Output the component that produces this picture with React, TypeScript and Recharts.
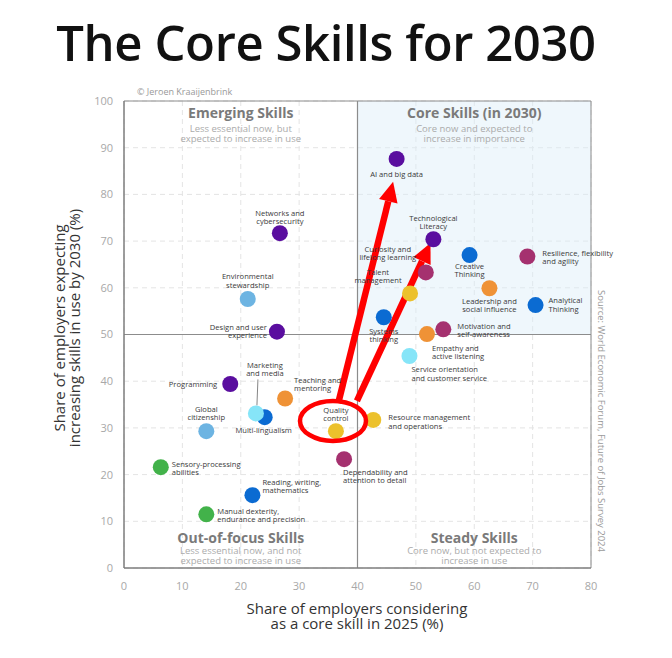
import React from 'react';
import {
  ScatterChart,
  Scatter,
  XAxis,
  YAxis,
  CartesianGrid,
  ReferenceLine,
  ReferenceArea,
  ReferenceDot,
} from 'recharts';

// ---------- data ----------
const skills = [
  'AI and big data',
  'Networks and\ncybersecurity',
  'Environmental\nstewardship',
  'Design and user\nexperience',
  'Technological\nLiteracy',
  'Curiosity and\nlifelong learning',
  'Talent\nmanagement',
  'Creative\nThinking',
  'Resilience, flexibility\nand agility',
  'Leadership and\nsocial influence',
  'Analytical\nThinking',
  'Systems\nthinking',
  'Empathy and\nactive listening',
  'Motivation and\nself-awareness',
  'Service orientation\nand customer service',
  'Resource management\nand operations',
  'Quality\ncontrol',
  'Dependability and\nattention to detail',
  'Teaching and\nmentoring',
  'Multi-lingualism',
  'Marketing\nand media',
  'Programming',
  'Global\ncitizenship',
  'Sensory-processing\nabilities',
  'Reading, writing,\nmathematics',
  'Manual dexterity,\nendurance and precision',
];

const coreShare2025 = [
  46.7, 26.7, 21.2, 26.2, 53.0, 51.7, 49.0, 59.2, 69.1, 62.6, 70.5, 44.5, 51.9,
  54.7, 48.9, 42.7, 36.3, 37.7, 27.6, 24.1, 22.6, 18.2, 14.1, 6.3, 22.0, 14.1,
];

const increaseShare2030 = [
  87.6, 71.7, 57.6, 50.6, 70.4, 63.3, 58.8, 67.0, 66.7, 59.9, 56.3, 53.7, 50.1,
  51.1, 45.4, 31.7, 29.3, 23.3, 36.3, 32.3, 33.1, 39.4, 29.3, 21.6, 15.6, 11.5,
];

const skillGroup = [
  'purple', 'purple', 'lightblue', 'purple', 'purple', 'magenta', 'yellow', 'blue',
  'magenta', 'orange', 'blue', 'blue', 'orange', 'magenta', 'cyan', 'yellow',
  'yellow', 'magenta', 'orange', 'blue', 'cyan', 'purple', 'lightblue', 'green',
  'blue', 'green',
];

const xTicks = [0, 10, 20, 30, 40, 50, 60, 70, 80];
const yTicks = [0, 10, 20, 30, 40, 50, 60, 70, 80, 90, 100];

const quadrants = [
  { title: 'Emerging Skills', sub: ['Less essential now, but', 'expected to increase in use'], x: 20, y: 100, top: true },
  { title: 'Core Skills (in 2030)', sub: ['Core now and expected to', 'increase in importance'], x: 60, y: 100, top: true },
  { title: 'Out-of-focus Skills', sub: ['Less essential now, and not', 'expected to increase in use'], x: 20, y: 0, top: false },
  { title: 'Steady Skills', sub: ['Core now, but not expected to', 'increase in use'], x: 60, y: 0, top: false },
];

// annotation arrows (data coordinates)
const arrows = [
  [{ x: 36.7, y: 35.3 }, { x: 46.1, y: 82.7 }],
  [{ x: 39.9, y: 35.8 }, { x: 52.5, y: 69.6 }],
];
const highlight = { x: 35.8, y: 31.5 };

// ---------- styles ----------
const groupColors: Record<string, string> = {
  purple: '#5a0e9f',
  blue: '#0b6bd2',
  magenta: '#a5316f',
  orange: '#ef9236',
  yellow: '#ecc12c',
  lightblue: '#6db4e2',
  cyan: '#86e5f8',
  green: '#42b24a',
};

// label placement relative to dot: [anchor, dx, dy(first baseline)]
const labelPlacement: [string, number, number][] = [
  ['middle', 0, 18],
  ['middle', 0, -17],
  ['middle', 0, -19],
  ['end', -10, -1],
  ['middle', 0, -18],
  ['middle', -38, -20],
  ['middle', -32, -18],
  ['middle', 0, 14],
  ['start', 15, 0],
  ['middle', 0, 16],
  ['start', 13, -1],
  ['middle', 0, 17],
  ['start', 5, 17.5],
  ['start', 14, 0],
  ['start', 2, 17],
  ['start', 15, 1],
  ['middle', 0, -18],
  ['start', -1, 16.5],
  ['start', 9, -15],
  ['middle', -1, 16],
  ['middle', 9, -45],
  ['end', -13, 2.5],
  ['middle', 0, -18.5],
  ['start', 11, 0],
  ['start', 10, -10],
  ['start', 11, 0],
];

const FONT = "'Open Sans', 'DejaVu Sans', sans-serif";
const LABEL_FS = 7.6;
const LABEL_LH = 8.2;

const data = skills.map((name, i) => ({
  name,
  x: coreShare2025[i],
  y: increaseShare2030[i],
  color: groupColors[skillGroup[i]],
  lp: labelPlacement[i],
  leader: name.startsWith('Marketing'),
}));

const SkillDot = (props: any) => {
  const { cx, cy, payload } = props;
  if (cx == null || cy == null) return null;
  const [anchor, dx, dy] = payload.lp;
  const lines: string[] = payload.name.split('\n');
  const tx = cx + dx;
  const firstY = cy + dy - ((lines.length - 1) * (LABEL_LH - 7)) / 2;
  return (
    <g>
      {payload.leader && (
        <line x1={cx + 1} y1={cy - 8} x2={cx + 2} y2={cy - 34} stroke="#666" strokeWidth={0.8} />
      )}
      <circle cx={cx} cy={cy} r={8} fill={payload.color} />
      <text
        x={tx}
        y={firstY}
        textAnchor={anchor}
        fontSize={LABEL_FS}
        fontFamily={FONT}
        fill="#3a3a3a"
      >
        {lines.map((l, i) => (
          <tspan key={i} x={tx} dy={i === 0 ? 0 : LABEL_LH}>
            {l}
          </tspan>
        ))}
      </text>
    </g>
  );
};

const Arrow = (props: any) => {
  const { x1, y1, x2, y2 } = props;
  if ([x1, y1, x2, y2].some((v) => v == null || isNaN(v))) return null;
  const ang = Math.atan2(y2 - y1, x2 - x1);
  const L = 20;
  const W = 9.5;
  const bx = x2 - L * Math.cos(ang);
  const by = y2 - L * Math.sin(ang);
  const px = -Math.sin(ang) * W;
  const py = Math.cos(ang) * W;
  return (
    <g>
      <line x1={x1} y1={y1} x2={bx} y2={by} stroke="#ff0000" strokeWidth={6.5} />
      <polygon
        points={`${x2},${y2} ${bx + px},${by + py} ${bx - px},${by - py}`}
        fill="#ff0000"
      />
    </g>
  );
};

const makeQuadLabel = (q: (typeof quadrants)[number]) => (props: any) => {
  const { cx, cy } = props;
  if (cx == null || cy == null) return null;
  const t = q.top ? [17, 30.5, 40.5] : [-25, -14.5, -4.5];
  return (
    <g>
      <text x={cx} y={cy + t[0]} textAnchor="middle" fontSize={14} fontWeight={700} fontFamily={FONT} fill="#7a7a7a">
        {q.title}
      </text>
      <text x={cx} y={cy + t[1]} textAnchor="middle" fontSize={9.5} fontFamily={FONT} fill="#ababab">
        {q.sub[0]}
      </text>
      <text x={cx} y={cy + t[2]} textAnchor="middle" fontSize={9.5} fontFamily={FONT} fill="#ababab">
        {q.sub[1]}
      </text>
    </g>
  );
};

const Ellipse = (props: any) => {
  const { cx, cy } = props;
  if (cx == null || cy == null) return null;
  return <ellipse cx={cx} cy={cy} rx={33} ry={20} fill="none" stroke="#ff0000" strokeWidth={4.5} />;
};

export default function App() {
  return (
    <div style={{ position: 'absolute', left: 0, top: 0, width: 672, height: 658, background: '#fff' }}>
      <ScatterChart
        width={672}
        height={658}
        margin={{ top: 101, right: 81, bottom: 60, left: 84 }}
      >
        <CartesianGrid stroke="#e4e4e4" strokeDasharray="5 4" />
        <ReferenceArea x1={40} x2={80} y1={50} y2={100} fill="#dcedf8" fillOpacity={0.45} stroke="none" />
        <ReferenceArea x1={0} x2={80} y1={0} y2={100} fill="none" stroke="#8c8c8c" strokeWidth={1} />
        <XAxis
          type="number"
          dataKey="x"
          domain={[0, 80]}
          ticks={xTicks}
          height={30}
          tickLine={false}
          tickMargin={8}
          axisLine={{ stroke: '#777' }}
          tick={{ fill: '#a8a8a8', fontSize: 11, fontFamily: FONT }}
        />
        <YAxis
          type="number"
          dataKey="y"
          domain={[0, 100]}
          ticks={yTicks}
          width={40}
          tickLine={false}
          tickMargin={5}
          axisLine={{ stroke: '#777' }}
          tick={{ fill: '#a8a8a8', fontSize: 11, fontFamily: FONT }}
        />
        <ReferenceLine x={40} stroke="#8c8c8c" strokeWidth={1.2} />
        <ReferenceLine y={50} stroke="#8c8c8c" strokeWidth={1.2} />
        {quadrants.map((q, i) => (
          <ReferenceDot key={'q' + i} x={q.x} y={q.y} r={0} shape={makeQuadLabel(q)} />
        ))}
        <Scatter data={data} shape={SkillDot} isAnimationActive={false} />
        <ReferenceDot x={highlight.x} y={highlight.y} r={0} shape={Ellipse} />
        {arrows.map((seg, i) => (
          <ReferenceLine key={'a' + i} segment={seg} shape={Arrow} ifOverflow="visible" />
        ))}
      </ScatterChart>
      <svg
        width={672}
        height={658}
        style={{ position: 'absolute', left: 0, top: 0, pointerEvents: 'none' }}
      >
        <text x={326} y={61} textAnchor="middle" fontSize={49} fontWeight={600} fontFamily={FONT} fill="#111" letterSpacing={-0.4}>
          The Core Skills for 2030
        </text>
        <text x={137} y={95} fontSize={9} fontFamily={FONT} fill="#999">
          © Jeroen Kraaijenbrink
        </text>
        <text x={357} y={614} textAnchor="middle" fontSize={15} fontFamily={FONT} fill="#333">
          Share of employers considering
        </text>
        <text x={357} y={629} textAnchor="middle" fontSize={15} fontFamily={FONT} fill="#333">
          as a core skill in 2025 (%)
        </text>
        <text transform="translate(65,328) rotate(-90)" textAnchor="middle" fontSize={15} fontFamily={FONT} fill="#333">
          Share of employers expecting
        </text>
        <text transform="translate(80,328) rotate(-90)" textAnchor="middle" fontSize={15} fontFamily={FONT} fill="#333">
          increasing skills in use by 2030 (%)
        </text>
        <text transform="translate(598,421) rotate(90)" textAnchor="middle" fontSize={9.5} fontFamily={FONT} fill="#9a9a9a">
          Source: World Economic Forum, Future of Jobs Survey 2024
        </text>
      </svg>
    </div>
  );
}
